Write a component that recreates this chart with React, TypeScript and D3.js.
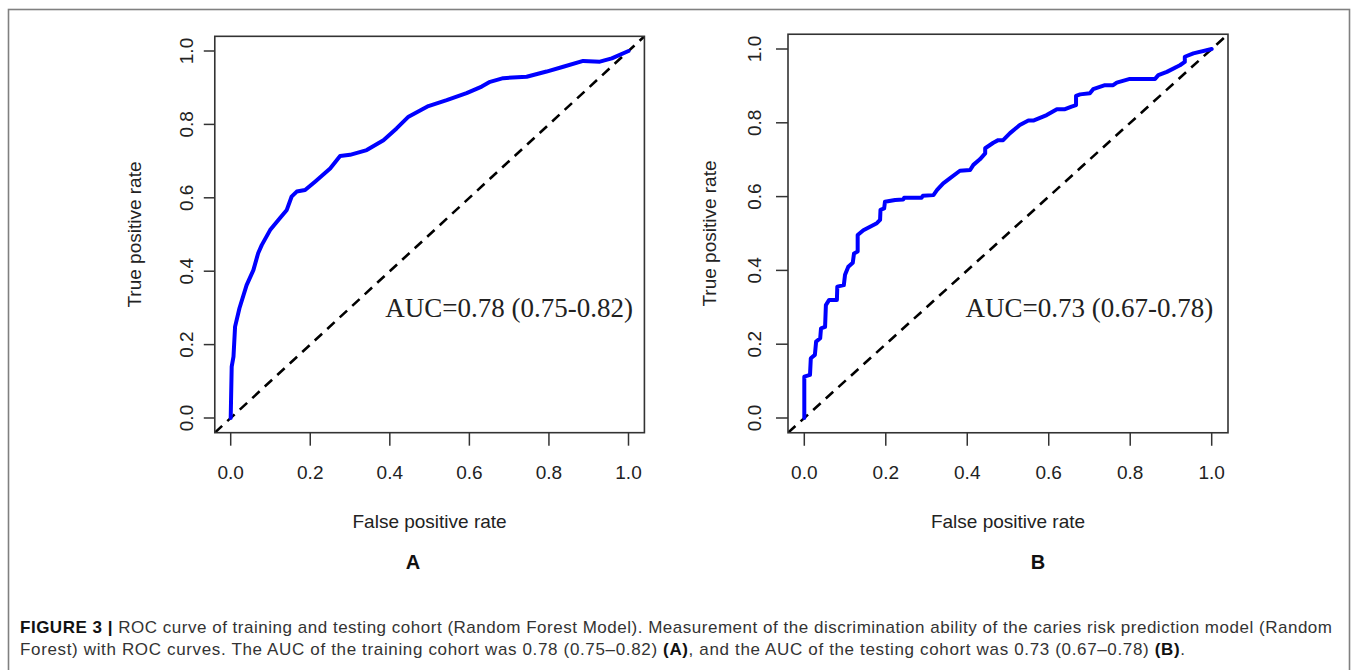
import React from "react";
import * as d3 from "d3";

// ---- data ----
const fprA = [0, 0.0025, 0.007, 0.011, 0.022, 0.04, 0.057, 0.069, 0.078, 0.099, 0.124, 0.141, 0.153, 0.166, 0.187, 0.212, 0.25, 0.275, 0.3, 0.342, 0.384, 0.417, 0.447, 0.497, 0.543, 0.593, 0.631, 0.652, 0.685, 0.744, 0.794, 0.836, 0.886, 0.928, 0.958, 1];
const tprA = [0, 0.14, 0.167, 0.249, 0.299, 0.362, 0.403, 0.449, 0.471, 0.512, 0.545, 0.567, 0.603, 0.617, 0.621, 0.644, 0.68, 0.714, 0.717, 0.73, 0.757, 0.789, 0.821, 0.85, 0.866, 0.885, 0.903, 0.916, 0.926, 0.93, 0.944, 0.957, 0.973, 0.971, 0.98, 1];

const fprB = [0, 0, 0.014, 0.016, 0.026, 0.029, 0.039, 0.041, 0.051, 0.053, 0.061, 0.08, 0.081, 0.097, 0.1, 0.108, 0.119, 0.122, 0.131, 0.131, 0.145, 0.178, 0.186, 0.187, 0.196, 0.198, 0.223, 0.243, 0.245, 0.288, 0.291, 0.317, 0.326, 0.341, 0.358, 0.382, 0.407, 0.415, 0.431, 0.444, 0.444, 0.464, 0.476, 0.488, 0.505, 0.529, 0.55, 0.562, 0.595, 0.62, 0.64, 0.656, 0.667, 0.667, 0.677, 0.701, 0.709, 0.738, 0.758, 0.767, 0.799, 0.861, 0.869, 0.89, 0.922, 0.934, 0.934, 0.955, 1];
const tprB = [0, 0.112, 0.117, 0.162, 0.171, 0.207, 0.216, 0.243, 0.247, 0.306, 0.32, 0.32, 0.356, 0.36, 0.388, 0.41, 0.421, 0.446, 0.451, 0.496, 0.509, 0.528, 0.537, 0.564, 0.568, 0.586, 0.591, 0.592, 0.597, 0.597, 0.602, 0.604, 0.618, 0.636, 0.65, 0.67, 0.672, 0.686, 0.701, 0.717, 0.731, 0.746, 0.753, 0.753, 0.772, 0.794, 0.806, 0.806, 0.821, 0.837, 0.837, 0.844, 0.848, 0.873, 0.877, 0.88, 0.891, 0.902, 0.902, 0.909, 0.919, 0.919, 0.929, 0.938, 0.956, 0.965, 0.979, 0.988, 1];

const tickValues = [0, 0.2, 0.4, 0.6, 0.8, 1.0];
const tickLabels = ["0.0", "0.2", "0.4", "0.6", "0.8", "1.0"];
const panelLetters = ["A", "B"];
const aucLabels = ["AUC=0.78 (0.75-0.82)", "AUC=0.73 (0.67-0.78)"];
const xTitle = "False positive rate";
const yTitle = "True positive rate";

const captionBold = "FIGURE 3 | ";
const captionLine1 =
  "ROC curve of training and testing cohort (Random Forest Model). Measurement of the discrimination ability of the caries risk prediction model (Random";
const captionLine2a =
  "Forest) with ROC curves. The AUC of the training cohort was 0.78 (0.75–0.82) ";
const captionLine2b = "(A)";
const captionLine2c = ", and the AUC of the testing cohort was 0.73 (0.67–0.78) ";
const captionLine2d = "(B)";
const captionLine2e = ".";

// ---- layout ----
const W = 1357;
const H = 670;
const panels = [
  { fpr: fprA, tpr: tprA, x0: 230.7, x1: 628.5, y0: 418, y1: 51, tickLab: 22, ytitle: 74, ytick: 11 },
  { fpr: fprB, tpr: tprB, x0: 804.3, x1: 1211.7, y0: 418, y1: 49, tickLab: 27, ytitle: 72, ytick: 12 },
];

const sans = "'Liberation Sans', Arial, Helvetica, sans-serif";
const serif = "'Liberation Serif', 'Times New Roman', serif";
const narrow = "'Liberation Sans Narrow', 'Arial Narrow', 'Liberation Sans', sans-serif";

function Panel({ p, idx }: { p: any; idx: number }) {
  const x = d3.scaleLinear().domain([0, 1]).range([p.x0, p.x1]);
  const y = d3.scaleLinear().domain([0, 1]).range([p.y0, p.y1]);
  const bx0 = x(-0.04), bx1 = x(1.04), by0 = y(-0.04), by1 = y(1.04);
  const pts: [number, number][] = p.fpr.map((f: number, i: number) => [f, p.tpr[i]]);
  const line = d3
    .line<[number, number]>()
    .x((d) => x(d[0]))
    .y((d) => y(d[1]));
  const diag = line([
    [-0.04, -0.04],
    [1.04, 1.04],
  ]) as string;
  const clipId = `clip${idx}`;
  const cx = (p.x0 + p.x1) / 2;
  const cy = (p.y0 + p.y1) / 2;
  return (
    <g>
      <defs>
        <clipPath id={clipId}>
          <rect x={bx0} y={by1} width={bx1 - bx0} height={by0 - by1} />
        </clipPath>
      </defs>
      <g clipPath={`url(#${clipId})`}>
        <path d={diag} fill="none" stroke="#000" strokeWidth={2.6} strokeDasharray="10,7" />
        <path d={line(pts) as string} fill="none" stroke="#0000ff" strokeWidth={4} strokeLinejoin="round" strokeLinecap="round" />
      </g>
      <rect x={bx0} y={by1} width={bx1 - bx0} height={by0 - by1} fill="none" stroke="#333" strokeWidth={1.6} />
      {tickValues.map((t, i) => (
        <g key={"x" + i}>
          <line x1={x(t)} x2={x(t)} y1={by0} y2={by0 + 13} stroke="#333" strokeWidth={1.5} />
          <text x={x(t)} y={479} textAnchor="middle" fontFamily={sans} fontSize={19} fill="#222">
            {tickLabels[i]}
          </text>
        </g>
      ))}
      {tickValues.map((t, i) => (
        <g key={"y" + i}>
          <line x1={bx0 - p.ytick} x2={bx0} y1={y(t)} y2={y(t)} stroke="#333" strokeWidth={1.5} />
          <text
            transform={`translate(${bx0 - p.tickLab},${y(t)}) rotate(-90)`}
            textAnchor="middle"
            fontFamily={sans}
            fontSize={19}
            fill="#222"
          >
            {tickLabels[i]}
          </text>
        </g>
      ))}
      <text x={cx} y={528} textAnchor="middle" fontFamily={sans} fontSize={19} fill="#222">
        {xTitle}
      </text>
      <text
        transform={`translate(${bx0 - p.ytitle},${cy}) rotate(-90)`}
        textAnchor="middle"
        fontFamily={sans}
        fontSize={19}
        fill="#222"
      >
        {yTitle}
      </text>
      <text x={x(0.7)} y={y(0.275)} textAnchor="middle" fontFamily={serif} fontSize={27} fill="#222">
        {aucLabels[idx]}
      </text>
    </g>
  );
}

export default function App() {
  return (
    <svg
      width={W}
      height={H}
      viewBox={`0 0 ${W} ${H}`}
      style={{ position: "absolute", left: 0, top: 0, display: "block", background: "#fff" }}
    >
      <rect x={0} y={0} width={W} height={H} fill="#fff" />
      <rect x={8.5} y={9.5} width={1341} height={668} fill="none" stroke="#808080" strokeWidth={1.6} />
      {panels.map((p, i) => (
        <Panel key={i} p={p} idx={i} />
      ))}
      <text x={413} y={569} textAnchor="middle" fontFamily={sans} fontWeight="bold" fontSize={20} fill="#111">
        {panelLetters[0]}
      </text>
      <text x={1038} y={569} textAnchor="middle" fontFamily={sans} fontWeight="bold" fontSize={20} fill="#111">
        {panelLetters[1]}
      </text>
      <text x={20} y={633} fontFamily={narrow} fontSize={17} fill="#333" textLength={1312} lengthAdjust="spacing">
        <tspan fontWeight="bold" fill="#111">{captionBold}</tspan>
        <tspan>{captionLine1}</tspan>
      </text>
      <text x={20} y={655} fontFamily={narrow} fontSize={17} fill="#333" textLength={1165} lengthAdjust="spacing">
        <tspan>{captionLine2a}</tspan>
        <tspan fontWeight="bold" fill="#111">{captionLine2b}</tspan>
        <tspan>{captionLine2c}</tspan>
        <tspan fontWeight="bold" fill="#111">{captionLine2d}</tspan>
        <tspan>{captionLine2e}</tspan>
      </text>
    </svg>
  );
}
